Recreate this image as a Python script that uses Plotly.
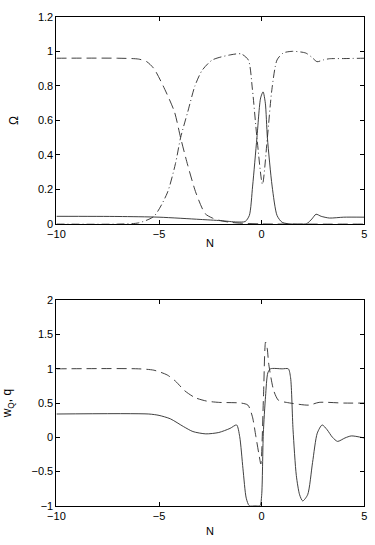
import plotly.graph_objects as go

# ---- top panel: density parameters ----
n_rad = [-10, -7, -6, -5.6, -5.25, -4.8, -4.25, -3.95, -3.6, -3.2, -2.75, -2.4, -2, -1.5, -1, 0, 5]
om_rad = [0.96, 0.96, 0.955, 0.94, 0.90, 0.80, 0.65, 0.50, 0.34, 0.18, 0.06, 0.035, 0.02, 0.01, 0.005, 0.001, 0]

n_mat = [-10, -7, -6, -5.25, -4.6, -4.2, -3.95, -3.6, -3.25, -2.9, -2.4, -1.5, -1.0, -0.65, -0.45,
         -0.23, 0.04, 0.28, 0.5, 0.75, 1.05, 1.5, 2.15, 2.45, 2.7, 3.0, 3.3, 4, 5]
om_mat = [0, 0, 0.007, 0.045, 0.18, 0.35, 0.50, 0.65, 0.80, 0.89, 0.95, 0.98, 0.985, 0.95, 0.78,
          0.50, 0.23, 0.50, 0.78, 0.95, 0.99, 1.0, 0.99, 0.965, 0.94, 0.95, 0.957, 0.958, 0.96]

n_q = [-10, -7, -5, -3, -2, -1.2, -0.8, -0.6, -0.44, -0.23, -0.05, 0.07, 0.18, 0.28, 0.51, 0.75,
       1.0, 1.5, 2.2, 2.45, 2.65, 2.9, 3.3, 4, 5]
om_q = [0.045, 0.044, 0.04, 0.027, 0.02, 0.012, 0.015, 0.05, 0.22, 0.5, 0.73, 0.765, 0.70, 0.5, 0.22, 0.05,
        0.01, 0.0, 0.003, 0.03, 0.057, 0.045, 0.035, 0.04, 0.04]

# ---- bottom panel: w_Q and q ----
n_dec = [-10, -6, -5.25, -4.6, -4.2, -3.75, -3.25, -2.7, -2.1, -1.0, -0.67, -0.45, -0.28, -0.12, -0.04,
         0.09, 0.19, 0.27, 0.35, 0.59, 0.82, 1.2, 2.3, 2.8, 4, 5]
q_dec = [1.0, 1.0, 0.98, 0.91, 0.82, 0.68, 0.58, 0.53, 0.51, 0.50, 0.47, 0.30, 0.01, -0.27, -0.39,
         0.6, 1.39, 1.3, 1.06, 0.68, 0.54, 0.51, 0.47, 0.51, 0.50, 0.50]

n_w = [-10, -5.5, -5, -4.45, -3.8, -3.35, -2.72, -2.09, -1.54, -1.22, -1.07, -0.91, -0.75, -0.6, -0.3,
       -0.08, 0.0, 0.08, 0.19, 0.3, 0.43, 1.0, 1.3, 1.41, 1.53, 1.69, 1.85, 2.0, 2.24, 2.48, 2.71,
       2.95, 3.19, 3.45, 3.7, 4.06, 4.37, 5]
w_q = [0.34, 0.34, 0.32, 0.27, 0.155, 0.084, 0.05, 0.07, 0.13, 0.18, 0.01, -0.46, -0.89, -1.0, -1.0,
       -1.0, -0.85, 0.05, 0.6, 0.94, 1.0, 1.0, 1.0, 0.87, 0.11, -0.56, -0.84, -0.93, -0.84, -0.37, 0.06,
       0.18, 0.11, 0.0, -0.06, -0.01, 0.02, -0.01]

ink = "#2a2a2a"
fnt = "Liberation Sans"

def curve(x, y, dash, xa, ya):
    return go.Scatter(x=x, y=y, mode="lines", xaxis=xa, yaxis=ya, showlegend=False,
                      line=dict(color=ink, width=0.9, dash=dash, shape="spline", smoothing=0.7))

fig = go.Figure()
fig.add_trace(curve(n_rad, om_rad, "10px,5px", "x", "y"))
fig.add_trace(curve(n_mat, om_mat, "8px,3px,1px,3px", "x", "y"))
fig.add_trace(curve(n_q, om_q, "solid", "x", "y"))
fig.add_trace(curve(n_dec, q_dec, "10px,5px", "x2", "y2"))
fig.add_trace(curve(n_w, w_q, "solid", "x2", "y2"))

W, H = 375, 545
xdom = [49 / W, 367 / W]
ax = dict(showline=True, linecolor="black", linewidth=1, mirror="ticks", ticks="inside",
          ticklen=4, tickcolor="black", showgrid=False, zeroline=False, ticklabeloverflow="allow",
          tickfont=dict(family=fnt, size=11, color="black"))

fig.update_layout(
    width=W, height=H, plot_bgcolor="white", paper_bgcolor="white",
    margin=dict(l=0, r=0, t=0, b=0),
    font=dict(family=fnt, size=11, color="black"),
    xaxis=dict(ax, domain=xdom, range=[-10, 5], tickvals=[-10, -5, 0, 5], anchor="y"),
    yaxis=dict(ax, domain=[(H - 223) / H, (H - 11) / H], range=[0, 1.2],
               tickvals=[0, 0.2, 0.4, 0.6, 0.8, 1, 1.2], anchor="x",
               title=dict(text="Ω", standoff=16, font=dict(family=fnt, size=12))),
    xaxis2=dict(ax, domain=xdom, range=[-10, 5], tickvals=[-10, -5, 0, 5], anchor="y2"),
    yaxis2=dict(ax, domain=[(H - 511) / H, (H - 301) / H], range=[-1, 2],
                tickvals=[-1, -0.5, 0, 0.5, 1, 1.5, 2], anchor="x2",
                title=dict(text="w<sub>Q</sub>, q", standoff=17, font=dict(family=fnt, size=12))),
)

# x-axis titles sit tight under the tick labels, as in the original
for yp in (242, 537):
    fig.add_annotation(text="N", x=(xdom[0] + xdom[1]) / 2, y=(H - yp) / H, xref="paper", yref="paper",
                       yanchor="middle", showarrow=False, font=dict(family=fnt, size=11, color="black"))

# drop the browser's default body margin so the figure fills the window exactly
fig.write_html("out.html", config={"displayModeBar": False},
               post_script="document.body.style.margin='0';")
